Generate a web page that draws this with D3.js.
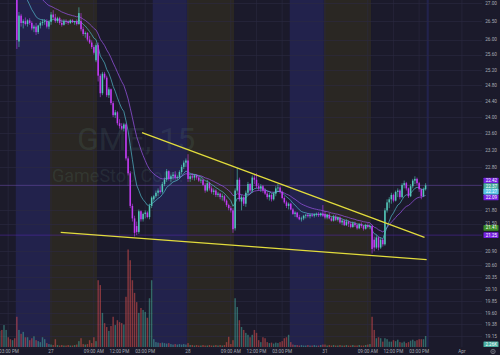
<!DOCTYPE html>
<html>
<head>
<meta charset="utf-8">
<script src="https://cdn.jsdelivr.net/npm/d3@7"></script>
<style>
body{margin:0;background:#1b1a2b;overflow:hidden}
svg{display:block}
text{font-family:Roboto, "DejaVu Sans", sans-serif}
</style>
</head>
<body>
<div id="chart"></div>
<script>
// GME 15m, extended hours. each session: 22 pre + 26 regular + 16 post bars
var tradingDays = ['2025-03-26', '2025-03-27', '2025-03-28', '2025-03-31', '2025-04-01']

// [open, high, low, close]
var bars26 = [
  [28.70,28.85,28.60,28.75],[28.75,28.90,28.65,28.80],[28.80,28.95,28.70,28.72],[28.72,28.85,28.62,28.80],
  [28.80,28.92,28.70,28.85],[28.85,28.98,28.75,28.78],[28.78,28.90,28.68,28.82],[28.82,28.95,28.72,28.70],
  [28.70,28.85,28.60,28.78],[28.78,28.92,28.70,28.88],[28.88,29.00,28.78,28.84],[28.84,28.95,28.72,28.76],
  [28.76,28.90,28.68,28.86],[28.86,28.95,28.75,28.81],
  [28.81,28.85,25.75,25.99],[25.95,26.75,25.80,26.65],[26.65,26.70,26.35,26.45],[26.45,26.55,26.30,26.50],
  [26.50,26.60,26.38,26.42],[26.42,26.55,26.35,26.52],[26.52,26.58,26.40,26.45],[26.45,26.50,26.25,26.30],
  [26.30,26.40,26.20,26.35],[26.35,26.45,26.12,26.20],[26.20,26.40,26.15,26.38],[26.38,26.50,26.30,26.45],
  [26.45,26.55,26.38,26.48],[26.48,26.55,26.40,26.50],[26.50,26.55,26.30,26.35],[26.35,26.52,26.28,26.48]
]
var bars27 = [
  [26.48,26.75,26.40,26.68],[26.68,26.80,26.55,26.60],[26.60,26.70,26.45,26.50],[26.50,26.62,26.45,26.58],
  [26.58,26.62,26.40,26.45],[26.45,26.55,26.35,26.40],[26.40,26.55,26.38,26.50],[26.50,26.55,26.42,26.48],
  [26.48,26.52,26.40,26.45],[26.45,26.55,26.42,26.52],[26.52,26.55,26.45,26.47],[26.47,26.50,26.40,26.50],
  [26.50,26.55,26.38,26.42],[26.42,26.88,26.40,26.72],[26.50,26.72,26.22,26.28],[26.28,26.35,26.10,26.15],
  [26.15,26.22,26.05,26.18],[26.18,26.20,25.95,26.00],[26.00,26.10,25.88,25.92],[25.92,25.98,25.75,25.80],
  [25.80,25.85,25.60,25.65],[25.45,25.90,25.40,25.85],
  [25.85,25.92,24.90,25.05],[25.05,25.10,24.50,24.60],[24.60,25.15,24.55,25.10],[25.10,25.15,24.95,25.00],
  [25.00,25.05,24.50,24.55],[24.55,24.75,24.48,24.70],[24.70,24.72,24.30,24.35],[24.35,24.40,24.00,24.05],
  [24.05,24.18,23.98,24.12],[24.12,24.15,23.80,23.85],[23.85,23.95,23.72,23.78],[23.78,23.85,23.68,23.72],
  [23.72,23.86,23.65,23.82],[23.82,23.85,22.95,23.00],[23.00,23.05,22.60,22.65],[22.65,22.70,21.85,21.90],
  [21.90,21.95,21.55,21.62],[21.62,21.68,21.22,21.30],[21.45,21.55,21.25,21.32],[21.32,21.82,21.28,21.78],
  [21.78,21.80,21.55,21.60],[21.60,21.75,21.55,21.72],[21.72,21.80,21.62,21.75],[21.75,21.78,21.62,21.65],
  [21.65,21.95,21.60,21.90],[21.90,22.12,21.85,22.09],
  [22.05,22.15,22.00,22.12],[22.12,22.25,22.08,22.20],[22.20,22.30,22.12,22.25],[22.25,22.35,22.18,22.22],
  [22.22,22.45,22.18,22.40],[22.40,22.55,22.35,22.50],[22.50,22.75,22.45,22.70],[22.70,22.72,22.48,22.52],
  [22.52,22.62,22.45,22.58],[22.58,22.68,22.50,22.62],[22.62,22.70,22.50,22.55],[22.55,22.60,22.50,22.56],
  [22.56,22.72,22.52,22.68],[22.68,22.85,22.62,22.80],[22.80,22.95,22.75,22.90],[22.90,23.00,22.80,22.95]
]
var bars28 = [
  [22.95,23.10,22.45,22.52],[22.52,22.62,22.45,22.58],[22.58,22.65,22.50,22.55],[22.55,22.62,22.48,22.60],
  [22.60,22.62,22.50,22.55],[22.55,22.58,22.45,22.48],[22.48,22.55,22.42,22.50],[22.50,22.52,22.35,22.38],
  [22.38,22.42,22.20,22.25],[22.25,22.50,22.22,22.42],[22.42,22.45,22.25,22.30],[22.30,22.35,22.18,22.22],
  [22.22,22.30,22.15,22.25],[22.25,22.28,22.10,22.15],[22.15,22.22,22.10,22.18],[22.18,22.20,22.05,22.10],
  [22.10,22.18,22.02,22.12],[22.12,22.15,21.98,22.02],[22.02,22.05,21.88,21.92],[21.92,21.95,21.80,21.85],
  [21.85,21.90,21.75,21.80],[21.80,21.85,21.30,21.38],
  [21.40,22.30,21.35,22.25],[22.25,22.78,22.20,22.50],[22.50,22.55,22.00,22.05],[22.00,22.15,21.80,22.10],
  [22.10,22.12,21.90,21.95],[21.95,22.25,21.88,22.20],[22.20,22.45,22.15,22.40],[22.40,22.42,22.20,22.25],
  [22.25,22.60,22.20,22.55],[22.55,22.62,22.40,22.50],[22.50,22.65,22.30,22.35],[22.35,22.42,22.25,22.30],
  [22.30,22.40,22.22,22.35],[22.35,22.38,22.20,22.25],[22.25,22.30,22.15,22.18],[22.18,22.22,22.05,22.10],
  [22.10,22.20,22.02,22.15],[22.15,22.18,22.00,22.05],[22.05,22.22,22.02,22.18],[22.18,22.35,22.12,22.30],
  [22.30,22.40,22.22,22.32],[22.32,22.35,22.18,22.22],[22.22,22.25,22.05,22.08],[22.08,22.12,21.95,21.98],
  [21.98,22.02,21.85,21.90],[21.90,21.98,21.82,21.95],
  [21.95,21.97,21.80,21.82],[21.82,21.85,21.70,21.72],[21.72,21.78,21.65,21.75],[21.75,21.76,21.62,21.65],
  [21.65,21.70,21.58,21.60],[21.60,21.66,21.55,21.62],[21.62,21.70,21.58,21.68],[21.68,21.72,21.62,21.70],
  [21.70,21.74,21.64,21.67],[21.67,21.72,21.62,21.70],[21.70,21.74,21.65,21.68],[21.68,21.73,21.64,21.71],
  [21.71,21.75,21.66,21.72],[21.72,21.76,21.65,21.69],[21.69,21.75,21.66,21.73],[21.73,21.92,21.65,21.68]
]
var bars31 = [
  [21.72,21.78,21.60,21.64],[21.64,21.72,21.60,21.70],[21.70,21.74,21.60,21.62],[21.62,21.66,21.55,21.57],
  [21.57,21.70,21.55,21.66],[21.66,21.70,21.56,21.59],[21.59,21.66,21.55,21.64],[21.64,21.66,21.50,21.53],
  [21.53,21.60,21.47,21.57],[21.57,21.60,21.45,21.47],[21.47,21.60,21.45,21.55],[21.55,21.57,21.43,21.50],
  [21.50,21.55,21.40,21.43],[21.43,21.55,21.41,21.51],[21.51,21.55,21.43,21.47],[21.47,21.50,21.37,21.40],
  [21.40,21.51,21.38,21.49],[21.49,21.53,21.41,21.45],[21.45,21.47,21.35,21.39],[21.39,21.50,21.37,21.47],
  [21.47,21.51,21.40,21.43],[21.43,21.49,21.38,21.45],
  [21.45,21.48,20.85,20.95],[21.15,21.22,20.90,20.98],[20.98,21.25,20.95,21.20],[21.20,21.22,20.92,20.98],
  [20.98,21.20,20.95,21.15],[21.15,21.18,21.00,21.05],[21.05,21.85,21.02,21.80],[21.80,22.05,21.75,21.98],
  [21.98,22.10,21.85,22.05],[22.05,22.20,21.95,22.15],[22.15,22.18,21.98,22.02],[22.02,22.25,22.00,22.22],
  [22.22,22.30,22.10,22.25],[22.25,22.28,22.05,22.10],[22.10,22.42,22.08,22.38],[22.38,22.48,22.30,22.42],
  [22.42,22.45,22.25,22.30],[22.30,22.32,22.08,22.12],[22.12,22.40,22.10,22.35],[22.35,22.52,22.30,22.48],
  [22.48,22.58,22.40,22.52],[22.52,22.55,22.38,22.42],[22.42,22.45,22.22,22.28],[22.28,22.30,22.05,22.12],
  [22.12,22.32,22.10,22.28],[22.28,22.42,22.25,22.37]
]

// volume, millions
var vol26 = [3.0,2.6,2.8,3.1,2.5,2.9,3.3,3.5,4.5,3.5,2.0,1.6,1.4,1.8,
  6.2,3.5,2.7,3.1,2.0,2.0,1.4,1.8,2.2,1.4,1.2,1.0,2.0,1.6,0.8,0.6]
var vol27 = [0.5,0.4,1.6,0.4,0.3,0.4,0.3,0.3,0.4,0.3,0.3,0.4,0.5,1.2,1.8,0.6,0.5,0.6,1.4,0.8,2.0,1.2,
  13.7,12.7,7.0,4.9,4.1,3.3,4.3,6.2,4.5,5.5,5.1,4.9,4.6,10.3,20.0,17.8,13.7,11.1,9.2,7.0,8.0,7.6,7.2,6.0,10.0,13.7,
  1.6,1.0,0.9,0.8,0.9,0.8,0.7,0.8,0.6,0.5,0.6,0.5,0.6,0.5,0.6,0.5]
var vol28 = [0.8,0.4,0.4,0.3,0.4,0.3,0.3,0.4,0.3,0.3,0.4,0.3,0.3,0.4,0.3,0.4,0.3,0.4,1.0,2.1,0.6,1.4,
  10.0,8.2,5.5,4.1,3.5,2.9,2.5,2.0,2.5,3.5,2.9,1.4,1.0,2.0,1.8,1.0,0.8,0.9,0.7,0.9,0.8,1.0,1.2,1.8,2.0,2.5,
  1.0,0.5,0.4,0.4,0.3,0.4,0.3,0.3,0.4,0.3,0.3,0.4,0.3,0.3,0.4,0.5]
var vol31 = [0.5,0.3,0.4,0.3,0.4,0.3,0.3,0.4,0.3,0.3,0.4,0.3,0.3,0.4,0.3,0.3,0.4,0.3,0.3,0.4,0.5,0.6,
  6.2,3.5,1.8,2.0,1.8,1.1,1.8,1.6,1.1,1.1,1.4,1.2,1.5,1.0,0.9,1.1,0.8,1.0,1.3,1.5,1.2,1.4,1.6,1.6,1.6,2.26]

var sessionStarts = ['2025-03-26 12:30', '2025-03-27 04:00', '2025-03-28 04:00', '2025-03-31 04:00']

var priceTicks = [27, 26.5, 26, 25.6, 25.2, 24.8, 24.4, 24, 23.6, 23.2, 22.8, 21.8, 21.5,
  20.9, 20.6, 20.35, 20.1, 19.85, 19.6, 19.38, 19.15]
var timeTicks = ['2025-03-26 15:00', '2025-03-27 04:00', '2025-03-27 09:00', '2025-03-27 12:00', '2025-03-27 15:00',
  '2025-03-28 04:00', '2025-03-28 09:00', '2025-03-28 12:00', '2025-03-28 15:00',
  '2025-03-31 04:00', '2025-03-31 09:00', '2025-03-31 12:00', '2025-03-31 15:00', '2025-04-01 04:00']

// wedge drawn on the chart: [time, price]
var trendUpper = [['2025-03-27 14:45', 23.62], ['2025-03-31 15:45', 21.20]]
var trendLower = [['2025-03-27 05:15', 21.31], ['2025-03-31 16:00', 20.72]]

var axisMarks = [22.42, 22.37, 22.27, 22.09, 21.41, 21.25]
var axisMarkColors = ['#7420e0', '#47ad9f', '#58c4e6', '#7420e0', '#3c8c28', '#7420e0']
var countdown = '07:55'
var lastVolLabel = '2.26K'

function barIndex(str){
  var [day, hm] = str.split(' ')
  var [h, m] = hm.split(':').map(Number)
  return tradingDays.indexOf(day)*64 + (h*60 + m - 240)/15
}

var bars = []
;[[bars26, vol26], [bars27, vol27], [bars28, vol28], [bars31, vol31]].forEach(([b, v], s) => {
  var k0 = barIndex(sessionStarts[s])
  b.forEach((d, i) => bars.push({k: k0 + i, o: d[0], h: d[1], l: d[2], c: d[3], v: v[i]}))
})
var lastK = bars[bars.length - 1].k

function ema(vals, n){
  var a = 2/(n + 1), prev
  return vals.map((v, i) => prev = i == 0 ? v : v*a + prev*(1 - a))
}
var closes = bars.map(d => d.c)
var ema9 = ema(closes, 9)
var ema21 = ema(closes, 21)

var width = 500, height = 355
var plotW = 482, plotH = 347

var x = d3.scaleLinear().domain([64, 256]).range([50, 460.9])
var y = d3.scaleLog().domain([19.15, 27]).range([336, 3])
var yVol = d3.scaleLinear().domain([0, 20]).range([plotH, 249.5])
var bw = x(1) - x(0)

var svg = d3.select('#chart').append('svg')
  .attr('width', width).attr('height', height)

svg.append('rect').attr('width', width).attr('height', height).attr('fill', '#1b1a2b')

svg.append('clipPath').attr('id', 'plot')
  .append('rect').attr('width', plotW).attr('height', plotH)

var plot = svg.append('g').attr('clip-path', 'url(#plot)')

// session shading
var bands = []
tradingDays.forEach((day, i) => {
  bands.push({a: day + ' 04:00', b: day + ' 09:30', fill: '#2a2723'})
  bands.push({a: day + ' 16:00', b: day + ' 20:00', fill: '#22224c'})
})
plot.selectAll('rect.band').data(bands).join('rect')
  .attr('class', 'band')
  .attr('x', d => x(barIndex(d.a)))
  .attr('width', d => Math.max(0, x(Math.min(barIndex(d.b), lastK + 2)) - x(barIndex(d.a))))
  .attr('y', 0).attr('height', plotH)
  .attr('fill', d => d.fill)

// grid
plot.selectAll('line.hgrid').data(priceTicks).join('line')
  .attr('x1', 0).attr('x2', plotW)
  .attr('y1', d => Math.round(y(d)) + .5).attr('y2', d => Math.round(y(d)) + .5)
  .attr('stroke', '#2b2a42').attr('stroke-width', .6)
plot.selectAll('line.vgrid').data(timeTicks).join('line')
  .attr('y1', 0).attr('y2', plotH)
  .attr('x1', d => x(barIndex(d)) + 1).attr('x2', d => x(barIndex(d)) + 1)
  .attr('stroke', '#2b2a42').attr('stroke-width', .6)

// watermark
plot.append('text').text('GME, 15')
  .attr('x', 77).attr('y', 150)
  .attr('font-size', 32)
  .attr('fill', 'rgba(110,160,140,0.14)')
plot.append('text').text('GameStop Corp.')
  .attr('x', 52).attr('y', 182)
  .attr('font-size', 18)
  .attr('fill', 'rgba(110,160,140,0.14)')

// volume
var upVol = 'rgba(70,170,155,0.55)', dnVol = 'rgba(205,75,75,0.6)'
plot.selectAll('rect.vol').data(bars).join('rect')
  .attr('x', d => x(d.k) + .35)
  .attr('width', bw - .7)
  .attr('y', d => yVol(d.v))
  .attr('height', d => plotH - yVol(d.v))
  .attr('fill', d => d.c >= d.o ? upVol : dnVol)

// horizontal lines
plot.append('line')
  .attr('x1', 0).attr('x2', plotW)
  .attr('y1', y(axisMarks[1])).attr('y2', y(axisMarks[1]))
  .attr('stroke', '#6a4aa8').attr('stroke-width', .7).attr('opacity', .8)
plot.append('line')
  .attr('x1', 0).attr('x2', plotW)
  .attr('y1', y(axisMarks[5])).attr('y2', y(axisMarks[5]))
  .attr('stroke', '#5a2ab8').attr('stroke-width', .7).attr('opacity', .7)

// moving averages
var maLine = d3.line().x((d, i) => x(bars[i].k + .5)).y(d => y(d))
plot.append('path').datum(ema21).attr('d', maLine)
  .attr('fill', 'none').attr('stroke', '#8e4fd6').attr('stroke-width', .8)
plot.append('path').datum(ema9).attr('d', maLine)
  .attr('fill', 'none').attr('stroke', '#56c6d8').attr('stroke-width', .8).attr('opacity', .8)

// candles
var up = '#52c6b8', dn = '#c23cf2'
var candle = plot.selectAll('g.candle').data(bars).join('g')
candle.append('line')
  .attr('x1', d => x(d.k + .5)).attr('x2', d => x(d.k + .5))
  .attr('y1', d => y(d.h)).attr('y2', d => y(d.l))
  .attr('stroke', d => d.c >= d.o ? up : dn).attr('stroke-width', .6)
candle.append('rect')
  .attr('x', d => x(d.k) + .3)
  .attr('width', bw - .6)
  .attr('y', d => y(Math.max(d.o, d.c)))
  .attr('height', d => Math.max(.8, Math.abs(y(d.o) - y(d.c))))
  .attr('fill', d => d.c >= d.o ? up : dn)

// wedge
;[trendUpper, trendLower].forEach(t => {
  plot.append('line')
    .attr('x1', x(barIndex(t[0][0]))).attr('y1', y(t[0][1]))
    .attr('x2', x(barIndex(t[1][0]))).attr('y2', y(t[1][1]))
    .attr('stroke', '#e2dc3c').attr('stroke-width', 1.3)
})

// price axis
svg.selectAll('text.ytick').data(priceTicks).join('text')
  .attr('x', 497).attr('y', d => y(d))
  .attr('dy', '.35em')
  .attr('text-anchor', 'end')
  .attr('font-size', 4.7)
  .attr('fill', '#a7aab4')
  .text(d => d3.format('.2f')(d))

// axis price marks, spread apart so they don't overlap
var boxH = 5.6
var marks = axisMarks.map((v, i) => ({v, i, y: y(v)}))
marks.sort((a, b) => a.y - b.y)
for (var it = 0; it < 40; it++){
  for (var j = 1; j < marks.length; j++){
    var d = marks[j].y - marks[j - 1].y
    if (d < boxH){
      var push = (boxH - d)/2
      marks[j - 1].y -= push
      marks[j].y += push
    }
  }
}
var markSel = svg.selectAll('g.mark').data(marks).join('g')
  .attr('transform', d => `translate(0,${d.y})`)
markSel.append('rect')
  .attr('x', 483.5).attr('width', 15).attr('y', -boxH/2)
  .attr('height', d => d.i == 1 ? boxH*2 : boxH)
  .attr('rx', .6)
  .attr('fill', d => axisMarkColors[d.i])
markSel.append('text')
  .attr('x', 497).attr('dy', '.35em')
  .attr('text-anchor', 'end').attr('font-size', 4.5)
  .attr('fill', '#fff')
  .text(d => d3.format('.2f')(d.v))
markSel.filter(d => d.i == 1).append('text')
  .attr('x', 497).attr('y', boxH).attr('dy', '.35em')
  .attr('text-anchor', 'end').attr('font-size', 4.5)
  .attr('fill', '#e6fffb')
  .text(countdown)

// last volume mark
var lastV = bars[bars.length - 1].v
svg.append('rect')
  .attr('x', 483.5).attr('width', 15).attr('y', yVol(lastV) + 5.5)
  .attr('height', boxH).attr('rx', .6).attr('fill', '#47ad9f')
svg.append('text')
  .attr('x', 497).attr('y', yVol(lastV) + 5.5 + boxH/2).attr('dy', '.35em')
  .attr('text-anchor', 'end').attr('font-size', 4.5).attr('fill', '#fff')
  .text(lastVolLabel)

// time axis
var dayFmt = d3.timeFormat('%-d'), hourFmt = d3.timeFormat('%I:%M %p'), monFmt = d3.timeFormat('%b')
var parse = d3.timeParse('%Y-%m-%d %H:%M')
svg.selectAll('text.xtick').data(timeTicks).join('text')
  .attr('x', d => Math.max(9, x(barIndex(d)) + 1)).attr('y', 353.2)
  .attr('text-anchor', 'middle')
  .attr('font-size', 4.7)
  .attr('fill', '#a7aab4')
  .text(d => {
    var t = parse(d)
    if (d.endsWith('04:00')) return t.getDate() == 1 ? monFmt(t) : dayFmt(t)
    return hourFmt(t)
  })

// settings gear
svg.append('circle').attr('cx', 493).attr('cy', 351.5).attr('r', 2.2)
  .attr('fill', 'none').attr('stroke', '#8d909a').attr('stroke-width', .7)
svg.append('circle').attr('cx', 493).attr('cy', 351.5).attr('r', .8)
  .attr('fill', 'none').attr('stroke', '#8d909a').attr('stroke-width', .5)
</script>
</body>
</html>
